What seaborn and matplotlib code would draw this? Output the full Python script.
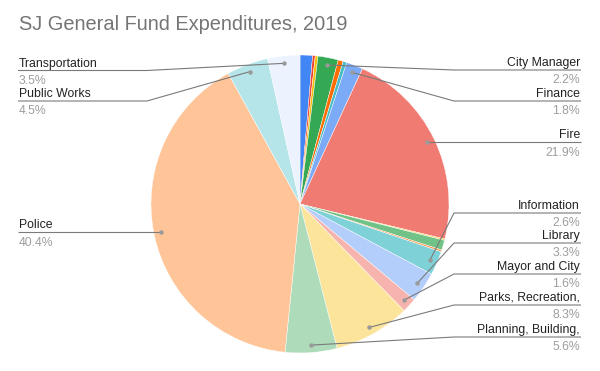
import numpy as np
import matplotlib
matplotlib.use("Agg")
import matplotlib.pyplot as plt
import seaborn as sns

# Slices in Google Sheets order (alphabetical departments), clockwise from 12 o'clock
departments = [
    "City Attorney", "City Auditor", "City Clerk", "City Manager",
    "Economic Development", "Environmental Services", "Finance", "Fire",
    "Housing", "Human Resources", "Independent Police Auditor",
    "Information Technology", "Library", "Mayor and City Council",
    "Parks, Recreation, and Neighborhood Services",
    "Planning, Building, and Code Enforcement", "Police", "Public Works",
    "Transportation",
]
shares = [1.35, 0.28, 0.30, 2.2, 0.55, 0.40, 1.8, 21.9, 0.15, 1.07, 0.2,
          2.6, 3.3, 1.6, 8.3, 5.6, 40.4, 4.5, 3.5]

# Slices that carry a label, with the (truncated) text Sheets shows
label_text = {
    "City Manager": "City Manager",
    "Finance": "Finance",
    "Fire": "Fire",
    "Information Technology": "Information",
    "Library": "Library",
    "Mayor and City Council": "Mayor and City",
    "Parks, Recreation, and Neighborhood Services": "Parks, Recreation,",
    "Planning, Building, and Code Enforcement": "Planning, Building,",
    "Police": "Police",
    "Public Works": "Public Works",
    "Transportation": "Transportation",
}

colors = ["#4285F4", "#EA4335", "#FBBC04", "#34A853", "#FF6D01", "#46BDC6",
          "#7BAAF7", "#F07B72", "#FCD04F", "#71C287", "#FF994D", "#7ED1D7",
          "#B3CEFB", "#F7B4AE", "#FDE49B", "#AEDCBA", "#FFC599", "#B5E5E8",
          "#ECF3FE"]

# label layout in pixels from top: (side, y of the leader line, None = level with the dot)
label_layout = {
    "City Manager": ("right", 70),
    "Finance": ("right", 101),
    "Fire": ("right", None),
    "Information Technology": ("right", 213),
    "Library": ("right", 243),
    "Mayor and City Council": ("right", 274),
    "Parks, Recreation, and Neighborhood Services": ("right", 305),
    "Planning, Building, and Code Enforcement": ("right", 337),
    "Police": ("left", None),
    "Public Works": ("left", 101),
    "Transportation": ("left", 70.5),
}


def main() -> None:
    sns.set_theme(style="white")
    plt.rcParams["font.family"] = ["Liberation Sans", "DejaVu Sans"]

    W, H = 600, 371
    fig = plt.figure(figsize=(W / 100, H / 100), dpi=100)
    ax = fig.add_axes([0, 0, 1, 1])

    def py(y):
        return H - y

    cx, cy, radius = 300, py(204), 149
    wedges, _ = ax.pie(
        shares,
        colors=colors,
        startangle=90,
        counterclock=False,
        center=(cx, cy),
        radius=radius,
        wedgeprops={"edgecolor": "white", "linewidth": 0.3},
    )
    ax.set_xlim(0, W)
    ax.set_ylim(0, H)
    ax.set_aspect("equal")
    ax.axis("off")

    total = sum(shares)
    line_color = "#7a7a7a"
    dot_color = "#9a9a9a"
    label_size = 8.8
    left_x, right_x = 19, 580
    left_kink, right_kink = 147, 454

    for name, wedge in zip(departments, wedges):
        if name not in label_text:
            continue
        mid = np.deg2rad((wedge.theta1 + wedge.theta2) / 2)
        r = 0.95 * radius
        dx, dy = cx + r * np.cos(mid), cy + r * np.sin(mid)
        side, line_y = label_layout[name]
        ly = dy if line_y is None else py(line_y)
        if side == "right":
            xs = [dx, right_kink, right_x + 1] if line_y is not None else [dx, right_x + 1]
            tx, ha = right_x, "right"
        else:
            xs = [dx, left_kink, left_x - 1] if line_y is not None else [dx, left_x - 1]
            tx, ha = left_x, "left"
        ys = [dy] + [ly] * (len(xs) - 1)
        ax.plot(xs, ys, color=line_color, linewidth=0.8, solid_capstyle="butt")
        ax.plot([dx], [dy], "o", color=dot_color, markersize=3.2, markeredgewidth=0)
        ax.text(tx, ly + 4, label_text[name], ha=ha, va="baseline",
                fontsize=label_size, color="#222222")
        ax.text(tx, ly - 13.3, f"{wedge_share(name, total):.1f}%", ha=ha,
                va="baseline", fontsize=label_size, color="#9e9e9e")

    fig.text(19 / W, 1 - 30 / H, "SJ General Fund Expenditures, 2019",
             ha="left", va="baseline", fontsize=14.4, color="#757575")

    fig.savefig("out.png", dpi=100)
    plt.close(fig)


def wedge_share(name, total):
    return shares[departments.index(name)] / total * 100


if __name__ == "__main__":
    main()
